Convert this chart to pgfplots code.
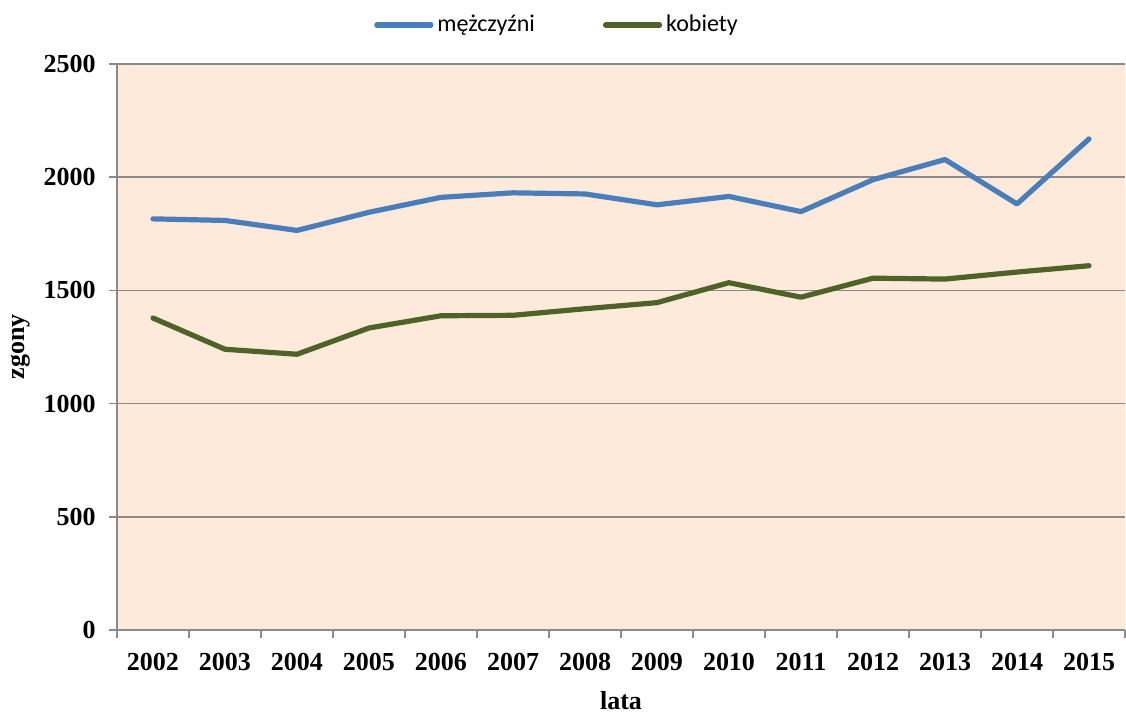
\documentclass[border=0pt]{standalone}
\usepackage{fontspec}
\setmainfont{Liberation Serif}
\newfontfamily\legfont{Carlito}
\usepackage{pgfplots}
\pgfplotsset{compat=1.18}
\definecolor{bgpeach}{HTML}{FDEADA}
\definecolor{menblue}{HTML}{4A7EBB}
\definecolor{womgreen}{HTML}{4F6228}
\definecolor{gridgray}{HTML}{8A8A8A}
\begin{document}
\begin{tikzpicture}
\begin{axis}[
  name=ax,
  scale only axis,
  width=504pt, height=283pt,
  xmin=-0.5, xmax=13.5,
  ymin=0, ymax=2500,
  xtick={0,...,13},
  xticklabels={2002,2003,2004,2005,2006,2007,2008,2009,2010,2011,2012,2013,2014,2015},
  minor xtick={-0.5,0.5,...,13.5},
  ytick={0,500,...,2500},
  major x tick style={draw=none},
  minor x tick style={gridgray, line width=0.8pt},
  y tick style={gridgray, line width=0.8pt},
  tick align=outside,
  major tick length=4pt,
  minor tick length=4pt,
  axis x line*=bottom,
  axis y line*=left,
  axis line style={gridgray, line width=0.8pt, -},
  ymajorgrids,
  grid style={gridgray, line width=0.8pt},
  axis background/.style={fill=bgpeach},
  /pgf/number format/assume math mode=true,
  /pgf/number format/1000 sep={},
  tick label style={font=\fontsize{13}{15}\selectfont\bfseries},
  xticklabel style={anchor=base, yshift=-16pt},
  yticklabel style={anchor=east, inner sep=0pt, xshift=-6.5pt},
  xlabel={lata},
  ylabel={zgony},
  label style={font=\fontsize{13}{15}\selectfont\bfseries},
  xlabel style={at={(axis description cs:0.5,-0.124)}, anchor=center},
  ylabel style={at={(axis description cs:-0.096,0.5)}, anchor=center, rotate=0},
  legend columns=2,
  legend style={at={(0.4375,1)}, anchor=center, yshift=19.5pt, draw=none, fill=none,
    font=\legfont\fontsize{12}{14}\selectfont,
    /tikz/every even column/.append style={column sep=32pt},
    /tikz/every odd column/.append style={column sep=0pt}},
  legend image code/.code={\draw[#1, line cap=round] (0pt,0pt) -- (27pt,0pt);},
]
\addplot[menblue, line width=2.6pt, line join=round, line cap=round] coordinates {
 (0,1816) (1,1809) (2,1765) (3,1845) (4,1911) (5,1931) (6,1926)
 (7,1878) (8,1915) (9,1848) (10,1989) (11,2078) (12,1882) (13,2169)};
\addlegendentry{mężczyźni}
\addplot[womgreen, line width=2.6pt, line join=round, line cap=round] coordinates {
 (0,1378) (1,1240) (2,1218) (3,1334) (4,1388) (5,1390) (6,1419)
 (7,1446) (8,1534) (9,1470) (10,1554) (11,1550) (12,1581) (13,1609)};
\addlegendentry{kobiety}
\end{axis}
\pgfresetboundingbox
\path ([xshift=-58.5pt,yshift=-41.5pt]ax.south west) rectangle ([xshift=0.5pt,yshift=32pt]ax.north east);
\end{tikzpicture}
\end{document}
